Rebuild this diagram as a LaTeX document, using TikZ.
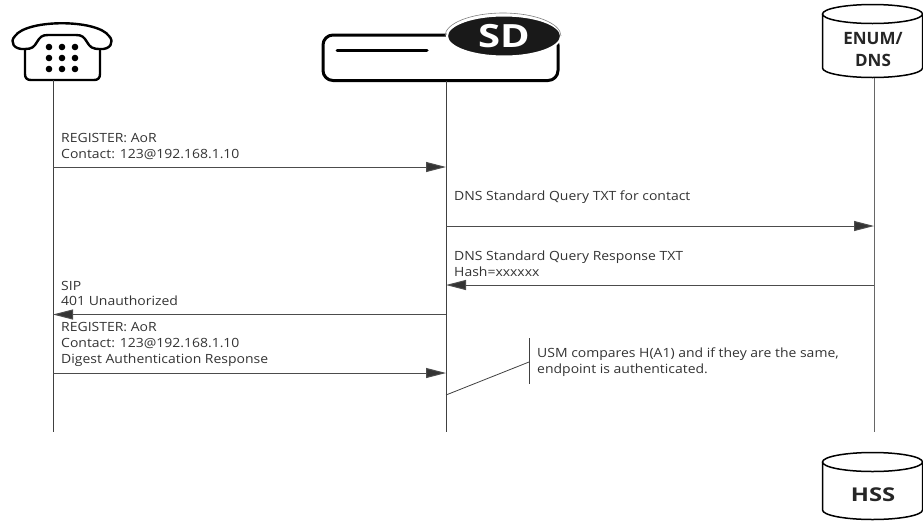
\documentclass[tikz,border=0pt]{standalone}
\usepackage{fontspec}
\setmainfont{Open Sans}
\newfontfamily\msgfont[FakeStretch=1.1]{Open Sans}
\newfontfamily\wideBold[FakeStretch=1.25]{Open Sans}
\usetikzlibrary{arrows.meta,shapes.geometric}
\tikzset{
	icon/.style={%
		black,
		line width=2.4pt,
		line join=round
	},
	lifeline/.style={%
		draw=black!75,
		line width=1pt
	},
	message/.style={%
		draw=black!70,
		line width=1pt,
		-{Triangle[length=20pt,width=10pt,fill=black!80]}
	},
	msgLabel/.style={%
		anchor=west,
		align=left,
		inner sep=0pt,
		text=black!80,
		font=\msgfont\fontsize{12.7}{15.8}\selectfont
	},
	dbBody/.style={%
		draw=black,
		line width=1.5pt,
		fill=white
	},
	dbLabel/.style={%
		align=center,
		inner sep=0pt,
		text=black!85,
		font=\bfseries\fontsize{17}{22}\selectfont
	}
}

\begin{document}
\begin{tikzpicture}[x=1pt,y=-1pt]
	\useasboundingbox (0,0) rectangle (923,520);

	% phone
	\draw [icon, fill=white] (25,49)
		.. controls (14,50) and (9,42) .. (15,36)
		.. controls (27,19) and (97,19) .. (109,36)
		.. controls (115,42) and (110,50) .. (100,49)
		.. controls (92,49) and (90,47) .. (87,42)
		.. controls (84,37) and (82,35) .. (76,35)
		-- (48,35)
		.. controls (42,35) and (40,37) .. (37,42)
		.. controls (34,47) and (32,49) .. cycle;
	\draw [icon] (25,49) -- (25,74)
		.. controls (25,78) and (27,80) .. (31,80)
		-- (94,80)
		.. controls (98,80) and (100,78) .. (100,74)
		-- (100,49);
	\foreach \y in {47,58,69} {
		\foreach \x in {49,62,75} {
			\fill (\x,\y) circle (3.3pt);
		}
	}
	\coordinate (phone) at (53,80);

	% session director
	\draw [icon, line width=3pt, rounded corners=10pt] (323,35) rectangle (558,80.5);
	\draw [icon, line width=3pt, line cap=round] (337,50.5) -- (427,50.5);
	\node (sdBadge) [ellipse, draw=white, fill=black!90, line width=2pt, minimum width=114pt,
		minimum height=41pt, inner sep=0pt, text=white,
		font=\wideBold\bfseries\fontsize{32}{32}\selectfont] at (504,36) {SD};
	\draw [black!50, line width=0.6pt] ([xshift=-1pt]sdBadge.west)
		arc [start angle=180, end angle=0, x radius=58pt, y radius=23pt];
	\coordinate (sd) at (446,81);

	% databases
	\foreach \t/\b in {14/68, 462/510} {
		\draw [dbBody] (822.5,\t) -- (822.5,\b)
			arc [start angle=180, end angle=360, x radius=50pt, y radius=9.5pt]
			-- (922.5,\t);
		\draw [dbBody] (872.5,\t) ellipse [x radius=50pt, y radius=9.5pt];
	}
	\coordinate (enum) at (874,77.5);
	\node (enumLabel) [dbLabel] at (873,49.5) {ENUM/\\DNS};
	\node (hssLabel) [dbLabel, font=\wideBold\bfseries\fontsize{19}{19}\selectfont] at (873,495) {HSS};

	\foreach \y/\n in {167/A, 226/B, 285/C, 314.5/D, 373/E, 432/End} {
		\coordinate (phone\n) at (53,\y);
		\coordinate (sd\n) at (446,\y);
		\coordinate (enum\n) at (874,\y);
	}

	\draw [lifeline] (phone) -- (phoneEnd);
	\draw [lifeline] (sd) -- (sdEnd);
	\draw [lifeline, black!60] (enum) -- (enumEnd);

	\draw [message] (phoneA) -- (sdA);
	\draw [message] (sdB) -- (enumB);
	\draw [message] (enumC) -- (sdC);
	\draw [message] (sdD) -- (phoneD);
	\draw [message] (phoneE) -- (sdE);

	\node (regOne) [msgLabel] at (61,146.5) {REGISTER: AoR\\Contact: 123@192.168.1.10};
	\node (query) [msgLabel] at (454,197.5) {DNS Standard Query TXT for contact};
	\node (response) [msgLabel] at (454,264) {DNS Standard Query Response TXT\\Hash=xxxxxx};
	\node (unauth) [msgLabel] at (61,293.5) {SIP\\401 Unauthorized};
	\node (regTwo) [msgLabel] at (61,344.5) {REGISTER: AoR\\Contact: 123@192.168.1.10\\Digest Authentication Response};
	\node (usm) [msgLabel] at (537,362.5) {USM compares H(A1) and if they are the same,\\endpoint is authenticated.};

	% note bracket
	\coordinate (noteTop) at (529,338);
	\coordinate (noteBot) at (529,384);
	\coordinate (noteMid) at (529,362);
	\coordinate (noteFoot) at (446,395);
	\draw [lifeline] (noteTop) -- (noteBot);
	\draw [lifeline, line width=0.8pt] (noteFoot) -- (noteMid);
\end{tikzpicture}
\end{document}
